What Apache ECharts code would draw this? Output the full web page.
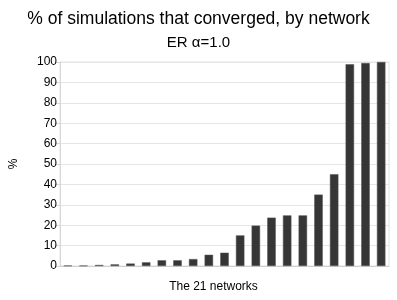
<!DOCTYPE html>
<html><head><meta charset="utf-8">
<script src="https://cdn.jsdelivr.net/npm/echarts@6/dist/echarts.min.js"></script>
<style>html,body{margin:0;padding:0;background:#fff}#c{width:397px;height:300px}</style>
</head><body><div id="c"></div>
<script>
var categories = ["1","2","3","4","5","6","7","8","9","10","11","12","13","14","15","16","17","18","19","20","21"];
var values = [0.2,0.2,0.5,0.8,1.2,1.8,2.8,2.8,3.4,5.5,6.5,15,19.8,23.7,24.8,24.8,35,45,98.9,99.5,100];
var yTicks = [0,10,20,30,40,50,60,70,80,90,100];
var titleText = "% of simulations that converged, by network";
var subtitleText = "ER \u03b1=1.0";
var xName = "The 21 networks";
var yName = "%";

var chart = echarts.init(document.getElementById('c'));
chart.setOption({
  animation: false,
  backgroundColor: '#fff',
  title: [{
    text: titleText, left: 'center', top: 5,
    textStyle: {fontFamily: 'Liberation Sans', fontSize: 17.5, fontWeight: 'normal', color: '#000'}
  }, {
    text: subtitleText, left: 'center', top: 30,
    textStyle: {fontFamily: 'Liberation Sans', fontSize: 15, fontWeight: 'normal', color: '#000'}
  }],
  grid: {left: 59, right: 8, top: 62, bottom: 34, show: true, borderColor: '#e2e2e2', borderWidth: 1},
  xAxis: {
    type: 'category', data: categories,
    name: xName, nameLocation: 'middle', nameGap: 15,
    nameTextStyle: {fontFamily: 'Liberation Sans', fontSize: 12, color: '#000', padding: [0, 22, 0, 0]},
    axisLine: {lineStyle: {color: '#cfcfcf'}},
    axisTick: {show: false}, axisLabel: {show: false}
  },
  yAxis: {
    type: 'value', min: yTicks[0], max: yTicks[yTicks.length-1], interval: 10,
    name: yName, nameLocation: 'middle', nameGap: 40, nameRotate: 90,
    nameTextStyle: {fontFamily: 'Liberation Sans', fontSize: 12, color: '#000'},
    axisLine: {show: true, lineStyle: {color: '#d8d8d8'}},
    axisTick: {show: true, length: 5, lineStyle: {color: '#d8d8d8'}},
    axisLabel: {fontFamily: 'Liberation Sans', fontSize: 12, color: '#000', margin: 3},
    splitLine: {lineStyle: {color: '#e6e6e6'}}
  },
  series: [{
    type: 'bar', data: values, barWidth: '54%',
    itemStyle: {color: '#363636', borderColor: '#555', borderWidth: 0.5}
  }]
});
</script></body></html>
